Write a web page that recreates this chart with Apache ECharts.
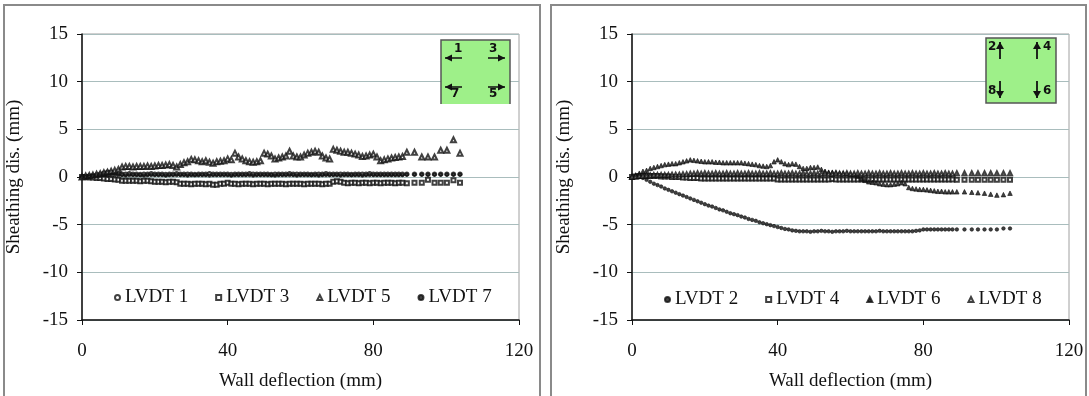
<!DOCTYPE html>
<html>
<head>
<meta charset="utf-8">
<script src="https://cdn.jsdelivr.net/npm/echarts@6/dist/echarts.min.js"></script>
<style>
html,body{margin:0;padding:0;background:#fff;}
#c{width:1089px;height:396px;}
</style>
</head>
<body>
<div id="c"></div>
<script>
// Shared wall deflection values (mm)
var X = [0,1,2,3,4,5,6,7,8,9,10,11,12,13,14,15,16,17,18,19,20,21,22,23,24,25,26,27,28,29,30,31,32,33,34,35,36,37,38,39,40,41,42,43,44,45,46,47,48,49,50,51,52,53,54,55,56,57,58,59,60,61,62,63,64,65,66,67,68,69,70,71,72,73,74,75,76,77,78,79,80,81,82,83,84,85,86,87,88,89.2,91.3,93.3,95,96.8,98.5,100.2,102,103.8];

// Left panel
var LVDT1 = [0,0.05,0.1,0.15,0.2,0.3,0.4,0.5,0.5,0.45,0.4,0.3,0.3,0.35,0.3,0.3,0.25,0.3,0.3,0.35,0.3,0.3,0.3,0.25,0.3,0.3,0.35,0.3,0.3,0.3,0.3,0.25,0.3,0.3,0.3,0.35,0.3,0.3,0.3,0.3,0.3,0.25,0.3,0.3,0.3,0.3,0.35,0.3,0.3,0.3,0.3,0.3,0.25,0.3,0.3,0.3,0.3,0.35,0.3,0.3,0.3,0.3,0.3,0.25,0.3,0.3,0.3,0.35,0.3,0.3,0.3,0.3,0.3,0.3,0.25,0.3,0.3,0.3,0.3,0.35,0.3,0.3,0.3,0.3,0.3,0.3,0.3,0.3,0.3,0.3,0.3,0.3,0.3,0.3,0.3,0.3,0.3,0.3];
var LVDT3 = [0,0,-0.05,-0.05,-0.1,-0.1,-0.15,-0.2,-0.2,-0.25,-0.3,-0.4,-0.4,-0.4,-0.4,-0.4,-0.45,-0.4,-0.4,-0.45,-0.5,-0.5,-0.5,-0.55,-0.5,-0.5,-0.55,-0.7,-0.7,-0.7,-0.75,-0.7,-0.7,-0.7,-0.75,-0.7,-0.8,-0.8,-0.7,-0.7,-0.6,-0.7,-0.7,-0.75,-0.7,-0.7,-0.7,-0.75,-0.7,-0.7,-0.7,-0.75,-0.7,-0.7,-0.7,-0.7,-0.75,-0.7,-0.7,-0.7,-0.7,-0.75,-0.7,-0.7,-0.7,-0.7,-0.75,-0.7,-0.7,-0.5,-0.45,-0.5,-0.6,-0.65,-0.6,-0.6,-0.65,-0.6,-0.6,-0.65,-0.6,-0.6,-0.65,-0.6,-0.6,-0.6,-0.65,-0.6,-0.6,-0.65,-0.6,-0.6,-0.3,-0.6,-0.6,-0.6,-0.35,-0.6];
var LVDT5 = [0,0.1,0.15,0.2,0.3,0.35,0.45,0.5,0.6,0.7,0.8,1.05,1.1,1.1,1.05,1.1,1.1,1.1,1.15,1.1,1.15,1.2,1.2,1.25,1.3,1.2,1.05,1.3,1.5,1.6,1.85,1.8,1.7,1.6,1.7,1.55,1.45,1.6,1.65,1.7,1.9,1.8,2.5,2.1,1.9,1.7,1.6,1.55,1.6,1.7,2.5,2.4,2.2,1.9,2.0,2.1,2.2,2.7,2.2,2.1,2.1,2.3,2.5,2.6,2.7,2.6,2.2,2.0,1.9,2.9,2.8,2.7,2.6,2.6,2.5,2.4,2.3,2.15,2.2,2.3,2.4,2.1,1.7,1.8,1.9,2.0,2.05,2.1,2.15,2.6,2.6,2.1,2.1,2.1,2.8,2.8,3.9,2.5];
var LVDT7 = [0,0,0.05,0.1,0.1,0.15,0.2,0.2,0.25,0.2,0.2,0.2,0.15,0.2,0.2,0.2,0.2,0.15,0.2,0.2,0.2,0.2,0.2,0.15,0.2,0.2,0.2,0.2,0.2,0.15,0.2,0.2,0.2,0.2,0.2,0.15,0.2,0.2,0.2,0.2,0.2,0.15,0.2,0.2,0.2,0.2,0.2,0.15,0.2,0.2,0.2,0.2,0.2,0.15,0.2,0.2,0.2,0.2,0.2,0.15,0.2,0.2,0.2,0.2,0.2,0.15,0.2,0.2,0.2,0.2,0.2,0.15,0.2,0.2,0.2,0.2,0.2,0.15,0.2,0.2,0.2,0.2,0.2,0.2,0.2,0.2,0.2,0.2,0.2,0.25,0.25,0.25,0.25,0.25,0.25,0.25,0.25,0.25];

// Right panel
var LVDT2 = [0,0.05,0,-0.1,-0.3,-0.5,-0.7,-0.85,-1.0,-1.2,-1.35,-1.5,-1.65,-1.8,-1.95,-2.1,-2.25,-2.4,-2.55,-2.7,-2.85,-3.0,-3.1,-3.25,-3.4,-3.5,-3.65,-3.8,-3.9,-4.0,-4.15,-4.25,-4.4,-4.5,-4.6,-4.75,-4.85,-4.95,-5.05,-5.15,-5.25,-5.35,-5.45,-5.5,-5.6,-5.65,-5.7,-5.7,-5.7,-5.75,-5.7,-5.7,-5.65,-5.7,-5.7,-5.75,-5.7,-5.7,-5.7,-5.65,-5.7,-5.7,-5.7,-5.7,-5.7,-5.7,-5.7,-5.7,-5.65,-5.7,-5.7,-5.7,-5.7,-5.7,-5.7,-5.7,-5.7,-5.7,-5.65,-5.6,-5.5,-5.5,-5.5,-5.5,-5.5,-5.5,-5.5,-5.5,-5.5,-5.5,-5.5,-5.5,-5.5,-5.5,-5.5,-5.5,-5.4,-5.4];
var LVDT4 = [0,0.05,0.1,0.1,0.1,0.1,0.1,0.1,0.05,0.05,0.05,0,0,0,-0.05,-0.05,-0.1,-0.1,-0.1,-0.15,-0.15,-0.15,-0.15,-0.15,-0.15,-0.15,-0.15,-0.15,-0.15,-0.15,-0.15,-0.15,-0.15,-0.15,-0.15,-0.15,-0.15,-0.15,-0.15,-0.15,-0.25,-0.25,-0.25,-0.25,-0.25,-0.25,-0.25,-0.25,-0.25,-0.25,-0.25,-0.25,-0.25,-0.25,-0.25,-0.2,-0.25,-0.25,-0.25,-0.25,-0.25,-0.25,-0.25,-0.25,-0.25,-0.25,-0.25,-0.25,-0.25,-0.25,-0.25,-0.25,-0.25,-0.25,-0.25,-0.25,-0.25,-0.25,-0.25,-0.25,-0.25,-0.25,-0.25,-0.25,-0.25,-0.25,-0.25,-0.25,-0.25,-0.3,-0.3,-0.3,-0.3,-0.3,-0.3,-0.3,-0.3,-0.3];
var LVDT6 = [0,0.2,0.4,0.6,0.7,0.9,1.0,1.1,1.2,1.3,1.35,1.4,1.4,1.5,1.6,1.7,1.8,1.75,1.7,1.65,1.6,1.6,1.6,1.55,1.55,1.5,1.5,1.5,1.5,1.5,1.5,1.45,1.4,1.35,1.3,1.2,1.15,1.1,1.2,1.6,1.8,1.6,1.4,1.3,1.4,1.35,1.1,0.9,0.9,1.0,1.0,1.05,0.8,0.6,0.5,0.5,0.45,0.4,0.4,0.35,0.3,0.25,0.1,-0.2,-0.35,-0.5,-0.55,-0.6,-0.7,-0.75,-0.8,-0.8,-0.75,-0.7,-0.6,-0.7,-1.1,-1.2,-1.25,-1.3,-1.3,-1.35,-1.4,-1.45,-1.5,-1.5,-1.55,-1.55,-1.55,-1.55,-1.55,-1.6,-1.65,-1.7,-1.8,-1.9,-1.85,-1.7];
var LVDT8 = [0,0.05,0.1,0.1,0.15,0.15,0.2,0.2,0.2,0.2,0.2,0.25,0.25,0.25,0.3,0.3,0.35,0.35,0.4,0.35,0.4,0.35,0.35,0.4,0.35,0.35,0.4,0.35,0.35,0.4,0.35,0.35,0.4,0.35,0.35,0.4,0.35,0.35,0.4,0.35,0.35,0.4,0.35,0.35,0.4,0.35,0.35,0.4,0.35,0.35,0.4,0.35,0.35,0.4,0.35,0.35,0.4,0.35,0.35,0.4,0.35,0.35,0.4,0.35,0.35,0.4,0.35,0.35,0.4,0.35,0.35,0.4,0.35,0.35,0.4,0.35,0.35,0.4,0.35,0.35,0.4,0.35,0.35,0.4,0.35,0.35,0.4,0.35,0.35,0.4,0.4,0.4,0.4,0.4,0.4,0.4,0.4,0.4];

var xTicks = [0, 40, 80, 120];
var yRange = [-15, 15];
var xTitle = 'Wall deflection (mm)';
var yTitle = 'Sheathing dis. (mm)';

function pairs(ys){ return X.map(function(x,i){ return [x, ys[i]]; }); }

var FONT = 'Liberation Serif';
var TXT = '#111';

function makeX(idx){
  return {
    gridIndex: idx, type:'value', min:xTicks[0], max:xTicks[xTicks.length-1], interval:40,
    name: xTitle, nameLocation:'middle', nameGap:52,
    nameTextStyle:{fontFamily:FONT, fontSize:19, color:TXT},
    axisLine:{show:true, onZero:false, lineStyle:{color:'#111', width:1.5}},
    axisTick:{show:true, length:5, lineStyle:{color:'#111'}},
    axisLabel:{fontFamily:FONT, fontSize:19, color:TXT, margin:22},
    splitLine:{show:false}
  };
}
function makeY(idx){
  return {
    gridIndex: idx, type:'value', min:yRange[0], max:yRange[1], interval:5,
    name: yTitle, nameLocation:'middle', nameGap:58, nameRotate:90,
    nameTextStyle:{fontFamily:FONT, fontSize:19, color:TXT},
    axisLine:{show:true, onZero:false, lineStyle:{color:'#111', width:1.5}},
    axisTick:{show:true, length:5, lineStyle:{color:'#111'}},
    axisLabel:{fontFamily:FONT, fontSize:19, color:TXT, margin:14},
    splitLine:{show:true, lineStyle:{color:'#a9bdbd', width:1.2}}
  };
}
function sc(name, data, symbol, size, xi){
  return {
    name:name, type:'scatter', xAxisIndex:xi, yAxisIndex:xi,
    data:pairs(data), symbol:symbol, symbolSize:size,
    itemStyle:{color:'#111', borderColor:'#111', borderWidth:0.8},
    emphasis:{disabled:true}, animation:false
  };
}

var GREEN = '#9ef089';
function hArrow(x1, x2, y, dir){
  var tip = dir < 0 ? x1 : x2;
  var back = tip - dir*7;
  return [
    {type:'line', shape:{x1:x1, y1:y, x2:x2, y2:y}, style:{stroke:'#111', lineWidth:1.5}, z:101},
    {type:'polygon', shape:{points:[[tip,y],[back,y-3.5],[back,y+3.5]]}, style:{fill:'#111'}, z:101}
  ];
}
function vArrow(x, y1, y2, dir){
  var tip = dir < 0 ? y1 : y2;
  var back = tip - dir*7;
  return [
    {type:'line', shape:{x1:x, y1:y1, x2:x, y2:y2}, style:{stroke:'#111', lineWidth:1.8}, z:101},
    {type:'polygon', shape:{points:[[x,tip],[x-4,back],[x+4,back]]}, style:{fill:'#111'}, z:101}
  ];
}
function lab(t, x, y){
  return {type:'text', left:x, top:y, z:102, style:{text:t, font:'bold 12px DejaVu Sans', fill:'#111'}};
}

var graphics = [
  {type:'rect', shape:{x:4, y:5, width:536, height:400}, style:{fill:'none', stroke:'#8a8a8a', lineWidth:2}, z:-1},
  {type:'rect', shape:{x:551, y:5, width:535, height:400}, style:{fill:'none', stroke:'#8a8a8a', lineWidth:2}, z:-1},
  // left sensor box
  {type:'rect', shape:{x:441, y:40, width:69, height:64}, style:{fill:GREEN, stroke:'none'}, z:100},
  {type:'polyline', shape:{points:[[441,104],[441,40],[510,40],[510,104]]}, style:{stroke:'#555', lineWidth:1.5, fill:'none'}, z:100},
  // right sensor box
  {type:'rect', shape:{x:986, y:38, width:70, height:65}, style:{fill:GREEN, stroke:'#555', lineWidth:1.5}, z:100}
];
graphics = graphics
  .concat(hArrow(445, 462, 58, -1)).concat(hArrow(488, 505, 58, 1))
  .concat(hArrow(445, 462, 87, -1)).concat(hArrow(488, 505, 87, 1))
  .concat([lab('1', 454, 43), lab('3', 489, 43), lab('7', 451, 88), lab('5', 489, 88)])
  .concat(vArrow(1000, 42, 59, -1)).concat(vArrow(1037, 42, 59, -1))
  .concat(vArrow(1000, 81, 98, 1)).concat(vArrow(1037, 81, 98, 1))
  .concat([lab('2', 988, 41), lab('4', 1043, 41), lab('8', 988, 85), lab('6', 1043, 85)]);

var legendText = {fontFamily:FONT, fontSize:19, color:TXT};
var option = {
  backgroundColor:'#fff',
  animation:false,
  grid:[
    {left:82, top:34, width:437, height:286, show:true, borderColor:'#a0a0a0', borderWidth:1},
    {left:632, top:34, width:437, height:286, show:true, borderColor:'#a0a0a0', borderWidth:1}
  ],
  xAxis:[makeX(0), makeX(1)],
  yAxis:[makeY(0), makeY(1)],
  legend:[
    {data:['LVDT 1','LVDT 3','LVDT 5','LVDT 7'], left:109, top:283, itemWidth:5, itemHeight:5, itemGap:27, textStyle:legendText, selectedMode:false},
    {data:['LVDT 2','LVDT 4','LVDT 6','LVDT 8'], left:659, top:285, itemWidth:5, itemHeight:5, itemGap:27, textStyle:legendText, selectedMode:false}
  ],
  graphic:graphics,
  series:[
    sc('LVDT 1', LVDT1, 'emptyCircle', 3.5, 0),
    sc('LVDT 3', LVDT3, 'emptyRect', 4, 0),
    sc('LVDT 5', LVDT5, 'emptyTriangle', 5, 0),
    sc('LVDT 7', LVDT7, 'circle', 3.5, 0),
    sc('LVDT 2', LVDT2, 'circle', 3.5, 1),
    sc('LVDT 4', LVDT4, 'emptyRect', 4, 1),
    sc('LVDT 6', LVDT6, 'triangle', 4.5, 1),
    sc('LVDT 8', LVDT8, 'emptyTriangle', 4, 1)
  ]
};
var chart = echarts.init(document.getElementById('c'), null, {renderer:'canvas'});
chart.setOption(option);
</script>
</body>
</html>
